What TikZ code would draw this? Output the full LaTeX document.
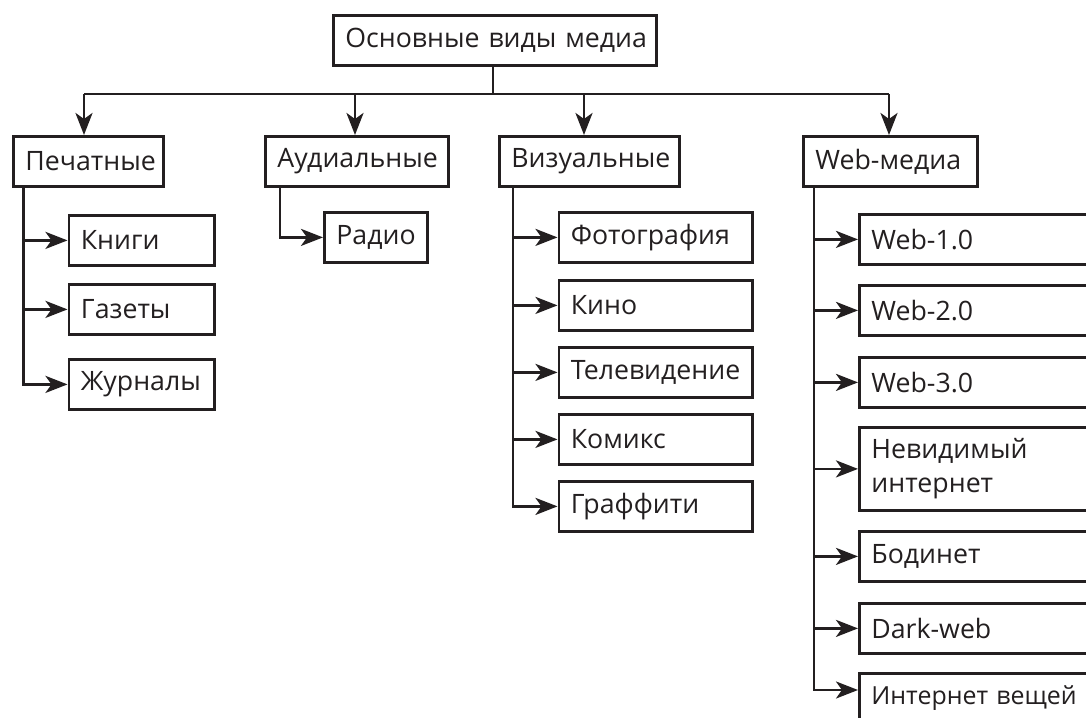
\documentclass[tikz,border=0pt]{standalone}
\usepackage{fontspec}
\setmainfont{Open Sans}
\usetikzlibrary{arrows.meta,calc}
\definecolor{ink}{RGB}{35,31,32}
\begin{document}
\begin{tikzpicture}[x=1bp,y=-1bp,
  ln/.style={line width=2.8bp, draw=ink},
  box/.style={ln, rectangle, anchor=north west, inner xsep=12bp, inner ysep=0pt,
    minimum height=50bp, align=left, text=ink, font=\fontsize{26.8}{34}\selectfont},
  arr/.style={ln, -{Stealth[length=22bp,width=17bp,inset=6bp]}}]
\useasboundingbox (0,0) rectangle (1086,718);
\fill[white] (0,0) rectangle (1086,718);
\clip (0,0) rectangle (1086,718);
% root and level 1
\node[box, text width=299bp] (root) at (332,14) {\mbox{Основные виды медиа}};
\node[box, text width=126bp] (pech) at (12,135) {\mbox{Печатные}};
\node[box, text width=159bp] (aud) at (264,135) {\mbox{Аудиальные}};
\node[box, text width=156bp] (viz) at (498,135) {\mbox{Визуальные}};
\node[box, text width=150bp] (web) at (802,135) {\mbox{Web-медиа}};
% children of Печатные
\node[box, text width=121.5bp] (kn) at (67.5,214) {\mbox{Книги}};
\node[box, text width=121.5bp] (gaz) at (67.5,283) {\mbox{Газеты}};
\node[box, text width=121.5bp] (zhur) at (67.5,358) {\mbox{Журналы}};
% child of Аудиальные
\node[box, text width=79bp] (radio) at (323,211) {\mbox{Радио}};
% children of Визуальные
\node[box, text width=169.5bp] (foto) at (557.5,211) {\mbox{Фотография}};
\node[box, text width=169.5bp] (kino) at (557.5,279) {\mbox{Кино}};
\node[box, text width=169.5bp] (tv) at (557.5,346) {\mbox{Телевидение}};
\node[box, text width=169.5bp] (komiks) at (557.5,413) {\mbox{Комикс}};
\node[box, text width=169.5bp] (graf) at (557.5,480) {\mbox{Граффити}};
% children of Web-медиа (cut off at the right edge)
\node[box, text width=240bp] (w1) at (858,213) {\mbox{Web-1.0}};
\node[box, text width=240bp] (w2) at (858,284) {\mbox{Web-2.0}};
\node[box, text width=240bp] (w3) at (858,356) {\mbox{Web-3.0}};
\node[box, text width=240bp, minimum height=83bp] (nev) at (858,426) {\mbox{Невидимый}\\\mbox{интернет}};
\node[box, text width=240bp] (bod) at (858,530) {\mbox{Бодинет}};
\node[box, text width=240bp] (dark) at (858,602) {\mbox{Dark-web}};
\node[box, text width=240bp, font=\fontsize{25}{32}\selectfont] (iot) at (858,672) {\mbox{Интернет вещей}};
% bus
\coordinate (bus) at (493,94);
\coordinate (d1) at (84,94);
\coordinate (d2) at (355,94);
\coordinate (d3) at (584,94);
\coordinate (d4) at (889,94);
\draw[ln] (root.south -| bus) -- (bus);
\draw[ln] (d1) -- (d4);
\draw[arr] (d1) -- (d1 |- pech.north);
\draw[arr] (d2) -- (d2 |- aud.north);
\draw[arr] (d3) -- (d3 |- viz.north);
\draw[arr] (d4) -- (d4 |- web.north);
% spines
\coordinate (s1) at (23.5,0);
\coordinate (s2) at (280,0);
\coordinate (s3) at (513,0);
\coordinate (s4) at (814,0);
\draw[arr] (pech.south -| s1) |- (zhur.west);
\draw[arr] (kn.west -| s1) -- (kn.west);
\draw[arr] (gaz.west -| s1) -- (gaz.west);
\draw[arr] (aud.south -| s2) |- (radio.west);
\draw[arr] (viz.south -| s3) |- (graf.west);
\draw[arr] (foto.west -| s3) -- (foto.west);
\draw[arr] (kino.west -| s3) -- (kino.west);
\draw[arr] (tv.west -| s3) -- (tv.west);
\draw[arr] (komiks.west -| s3) -- (komiks.west);
\coordinate (iotin) at ($(iot.north west)+(0,18)$);
\draw[arr] (web.south -| s4) |- (iotin);
\draw[arr] (w1.west -| s4) -- (w1.west);
\draw[arr] (w2.west -| s4) -- (w2.west);
\draw[arr] (w3.west -| s4) -- (w3.west);
\draw[arr] (nev.west -| s4) -- (nev.west);
\draw[arr] (bod.west -| s4) -- (bod.west);
\draw[arr] (dark.west -| s4) -- (dark.west);
\end{tikzpicture}
\end{document}
